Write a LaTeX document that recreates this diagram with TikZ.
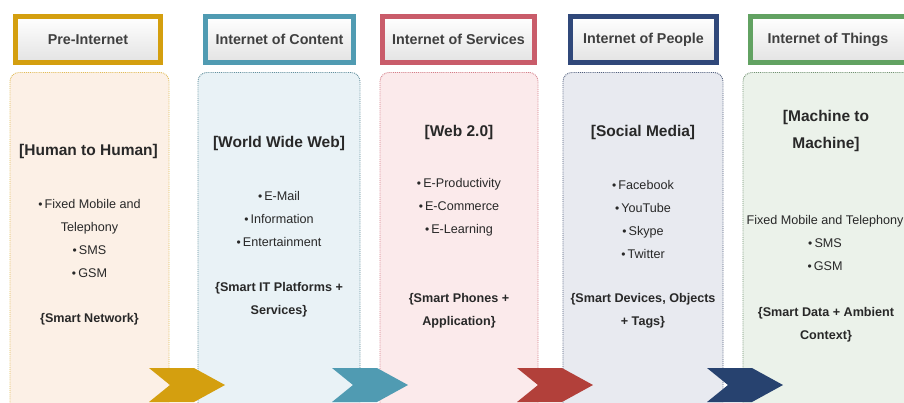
\documentclass[tikz,border=0pt]{standalone}
\usepackage{fontspec}
\setmainfont{Liberation Sans}
\usepackage{tikz}
\usetikzlibrary{positioning}

\definecolor{goldc}{RGB}{212,159,15}
\definecolor{tealc}{RGB}{80,155,178}
\definecolor{rosec}{RGB}{201,92,106}
\definecolor{navyc}{RGB}{48,72,122}
\definecolor{greenc}{RGB}{98,162,98}
\definecolor{redchev}{RGB}{178,64,58}
\definecolor{navychev}{RGB}{39,66,111}
\definecolor{fillA}{RGB}{252,240,230}
\definecolor{fillB}{RGB}{233,242,246}
\definecolor{fillC}{RGB}{251,234,235}
\definecolor{fillD}{RGB}{232,234,240}
\definecolor{fillE}{RGB}{235,242,234}
\definecolor{txt}{RGB}{40,40,40}

\newcommand{\bul}{{\fontsize{12}{10}\selectfont\textbullet}\,}

\tikzset{
  head/.style={draw=#1, line width=5pt, top color=white, bottom color=black!11,
    minimum width=145pt, minimum height=46pt, inner sep=0pt,
    font=\fontsize{14.3}{16}\selectfont\bfseries, text=black!75},
  body/.style={draw=#1, densely dotted, line width=0.9pt, rounded corners=9pt,
    anchor=north, minimum height=360pt, inner sep=0pt},
  ttl/.style={font=\fontsize{15.5}{27}\selectfont\bfseries, text=txt, align=center},
  itm/.style={font=\fontsize{12.6}{23}\selectfont, text=txt, align=center},
  smt/.style={font=\fontsize{12.6}{23}\selectfont\bfseries, text=txt, align=center},
}

\begin{document}
\begin{tikzpicture}[x=1pt,y=-1pt]
    \clip (0,0) rectangle (904,402);
    \fill[white] (0,0) rectangle (904,402);
    % stage bodies
    \node[body=goldc!70, fill=fillA, minimum width=159pt] (b1) at (89.5,72) {};
    \node[body=tealc!60!gray, fill=fillB, minimum width=162pt] (b2) at (279,72) {};
    \node[body=rosec!80, fill=fillC, minimum width=158pt] (b3) at (459,72) {};
    \node[body=navyc!60!gray, fill=fillD, minimum width=160pt] (b4) at (643,72) {};
    \node[body=greenc!50!gray, fill=fillE, minimum width=175pt] (b5) at (830.5,72) {};
    % stage headers
    \node[head=goldc] (h1) at (88,39.5) {Pre-Internet};
    \node[head=tealc, minimum width=148pt] (h2) at (279.5,39.5) {Internet of Content};
    \node[head=rosec, minimum width=152pt] (h3) at (458.5,39.5) {Internet of Services};
    \node[head=navyc, minimum width=146pt] (h4) at (643.5,39.5) {Internet of People};
    \node[head=greenc, minimum width=156pt] (h5) at (828,39.5) {Internet of Things};
    % column 1
    \node[ttl] (t1) at (88.5,151) {[Human to Human]};
    \node[itm] (l1) at (89.5,238) {\bul Fixed Mobile and\\Telephony\\\bul SMS\\\bul GSM};
    \node[smt] (s1) at (89.5,319) {\{Smart Network\}};
    % column 2
    \node[ttl] (t2) at (279,143) {[World Wide Web]};
    \node[itm] (l2) at (279,219) {\bul E-Mail\\\bul Information\\\bul Entertainment};
    \node[smt] (s2) at (279,300) {\{Smart IT Platforms +\\Services\}};
    % column 3
    \node[ttl] (t3) at (459,132) {[Web 2.0]};
    \node[itm] (l3) at (459,207) {\bul E-Productivity\\\bul E-Commerce\\\bul E-Learning};
    \node[smt] (s3) at (459,311) {\{Smart Phones +\\Application\}};
    % column 4
    \node[ttl] (t4) at (643,132) {[Social Media]};
    \node[itm] (l4) at (643,219) {\bul Facebook\\\bul YouTube\\\bul Skype\\\bul Twitter};
    \node[smt] (s4) at (643,311) {\{Smart Devices, Objects\\+ Tags\}};
    % column 5
    \node[ttl] (t5) at (826,131) {[Machine to\\Machine]};
    \node[itm] (l5) at (825,243) {Fixed Mobile and Telephony\\\bul SMS\\\bul GSM};
    \node[smt] (s5) at (826,325) {\{Smart Data + Ambient\\Context\}};
    % chevrons between stages
    \foreach \x/\c in {149/goldc, 332/tealc, 517/redchev, 707/navychev}
        \fill[\c] (\x,368) -- ++(45,0) -- ++(31,17) -- ++(-31,17) -- ++(-45,0) -- ++(21,-17) -- cycle;
\end{tikzpicture}
\end{document}
